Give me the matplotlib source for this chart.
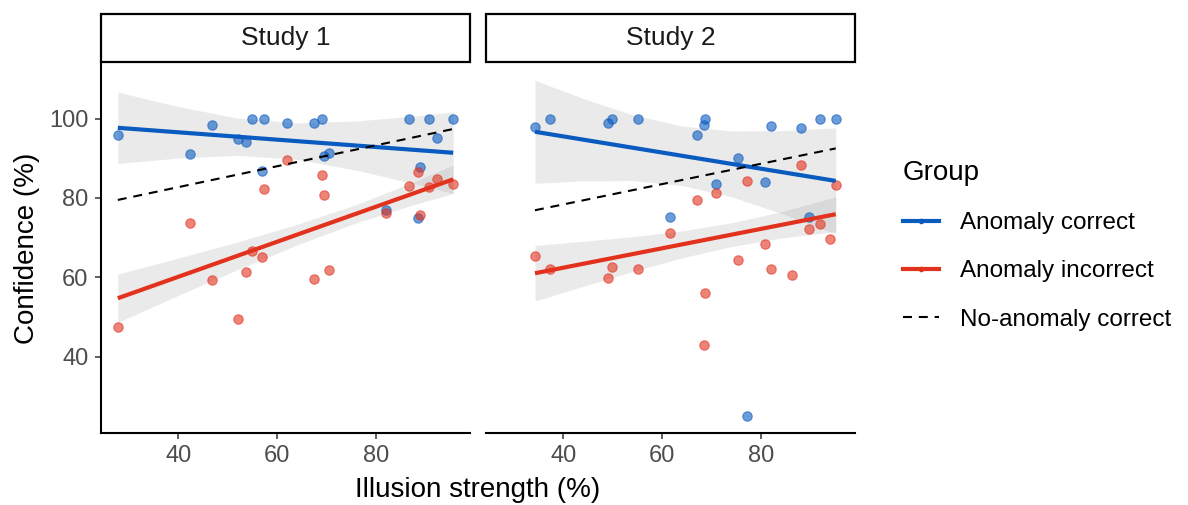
import numpy as np
import matplotlib
matplotlib.use('Agg')
import matplotlib.pyplot as plt
from matplotlib.lines import Line2D
from matplotlib.patches import Rectangle

plt.rcParams['font.family'] = ['Liberation Sans', 'DejaVu Sans']

# illusion strength per participant, confidence per group
study1_x = [27.8, 42.3, 46.9, 52.0, 53.7, 55.0, 56.9, 57.3, 62.1, 67.5,
            69.1, 69.4, 70.4, 82.0, 86.6, 88.5, 88.8, 90.7, 92.4, 95.6]
study1_correct = [95.9, 91.1, 98.4, 94.9, 94.1, 100, 86.9, 100, 98.9, 98.9,
                  100, 90.5, 91.4, 77.0, 100, 75.0, 87.7, 100, 95.2, 100]
study1_incorrect = [47.5, 73.8, 59.4, 49.4, 61.3, 66.7, 65.2, 82.2, 89.5, 59.6,
                    85.8, 80.8, 61.9, 76.1, 83.1, 86.5, 75.6, 82.8, 84.7, 83.4]

study2_x = [34.3, 37.4, 49.1, 49.9, 55.2, 61.6, 67.1, 68.5, 68.7, 70.9,
            75.3, 77.2, 80.8, 82.0, 86.2, 88.0, 89.8, 91.9, 94.0, 95.1]
study2_correct = [98.0, 100, 98.9, 100, 100, 75.1, 95.8, 98.5, 99.9, 83.4,
                  90.1, 24.9, 84.1, 98.2, np.nan, 97.6, 75.1, 100, np.nan, 100]
study2_incorrect = [65.3, 62.0, 59.9, 62.7, 62.0, 71.1, 79.5, 43.0, 56.1, 81.2,
                    64.4, 84.2, 68.3, 62.2, 60.6, 88.3, 72.2, 73.5, 69.7, 83.2]

# fitted lines (value at the two ends of the x range)
fit1_x = [27.8, 95.6]
fit1_correct = [97.7, 91.4]
fit1_incorrect = [54.7, 84.7]
fit1_noanom = [79.5, 97.4]
fit2_x = [34.3, 95.1]
fit2_correct = [96.7, 84.3]
fit2_incorrect = [61.0, 75.9]
fit2_noanom = [76.9, 92.5]

# confidence band half width around the fitted line
band1_x = [27.8, 40, 52, 64, 76, 88, 95.6]
band1_correct = [9.0, 6.5, 4.7, 4.6, 6.2, 8.6, 10.3]
band1_incorrect = [6.1, 4.7, 3.5, 2.6, 2.3, 2.9, 3.6]
band2_x = [34.3, 44, 54, 64, 74, 84, 95.1]
band2_correct = [13.0, 10.4, 8.3, 7.5, 8.3, 10.4, 13.4]
band2_incorrect = [7.0, 5.7, 4.4, 3.4, 3.0, 3.3, 4.4]

studies = ['Study 1', 'Study 2']
groups = ['Anomaly correct', 'Anomaly incorrect', 'No-anomaly correct']
col_correct = '#0A5BC0'
col_incorrect = '#E2321E'
DASH = (4.3, 3.3)

W, H = 1188, 505
fig = plt.figure(figsize=(W / 100, H / 100), dpi=100)
ax1 = fig.add_axes([101 / W, 1 - 433 / H, 369 / W, 371 / H])
ax2 = fig.add_axes([486 / W, 1 - 433 / H, 369 / W, 371 / H])

panels = [
    (ax1, study1_x, study1_correct, study1_incorrect, fit1_x, fit1_correct,
     fit1_incorrect, fit1_noanom, band1_x, band1_correct, band1_incorrect),
    (ax2, study2_x, study2_correct, study2_incorrect, fit2_x, fit2_correct,
     fit2_incorrect, fit2_noanom, band2_x, band2_correct, band2_incorrect),
]

for ax, x, yc, yi, fx, fc, fi, fn, bx, bc, bi in panels:
    # grey bands first
    for fit, hw in [(fc, bc), (fi, bi)]:
        mid = np.interp(bx, fx, fit)
        ax.fill_between(bx, mid - np.array(hw), mid + np.array(hw),
                        color='#999999', alpha=0.2, lw=0, zorder=1)
    for yy, col in [(yc, col_correct), (yi, col_incorrect)]:
        ax.scatter(x, yy, s=46, color=col, alpha=0.6, edgecolor=col,
                   linewidth=0.8, zorder=3)
    ax.plot(fx, fc, color=col_correct, lw=3.0, solid_capstyle='butt', zorder=4)
    ax.plot(fx, fi, color=col_incorrect, lw=3.0, solid_capstyle='butt', zorder=4)
    ax.plot(fx, fn, color='black', lw=1.5, dashes=DASH, zorder=4)

    ax.set_xlim(24.4, 99.0)
    ax.set_ylim(20.7, 114.3)
    ax.set_xticks([40, 60, 80])
    ax.set_yticks([40, 60, 80, 100])
    for side in ['top', 'right']:
        ax.spines[side].set_visible(False)
    ax.spines['bottom'].set_linewidth(1.5)
    ax.spines['left'].set_linewidth(1.5)
    ax.tick_params(axis='both', length=4.5, width=1.1, color='#333333',
                   labelsize=17, labelcolor='#4D4D4D', pad=4.5)

ax2.spines['left'].set_visible(False)
ax2.tick_params(axis='y', left=False, labelleft=False)

# facet strips
for i, (x0, x1) in enumerate([(101, 470), (486, 855)]):
    fig.patches.append(Rectangle((x0 / W, 1 - 62 / H), (x1 - x0) / W, 48 / H,
                                 transform=fig.transFigure, facecolor='white',
                                 edgecolor='black', lw=1.6))
    fig.text((x0 + x1) / 2 / W, 1 - 38 / H, studies[i], ha='center',
             va='center', fontsize=19, color='#1A1A1A')

fig.text(478 / W, 1 - 490 / H, 'Illusion strength (%)', ha='center',
         va='center', fontsize=20)
fig.text(27 / W, 1 - 248 / H, 'Confidence (%)', ha='center', va='center',
         rotation=90, fontsize=20)

handles = [Line2D([], [], color=col_correct, lw=3, marker='o', ms=3),
           Line2D([], [], color=col_incorrect, lw=3, marker='o', ms=3),
           Line2D([], [], color='black', lw=1.5, dashes=DASH)]
leg = fig.legend(handles, groups, loc='upper left',
                 bbox_to_anchor=(881 / W, 1 - 138 / H), frameon=False,
                 title='Group', title_fontsize=20, fontsize=17.5,
                 handlelength=1.5, handletextpad=0.85, labelspacing=1.08,
                 alignment='left')

fig.savefig('out.png', dpi=100)
